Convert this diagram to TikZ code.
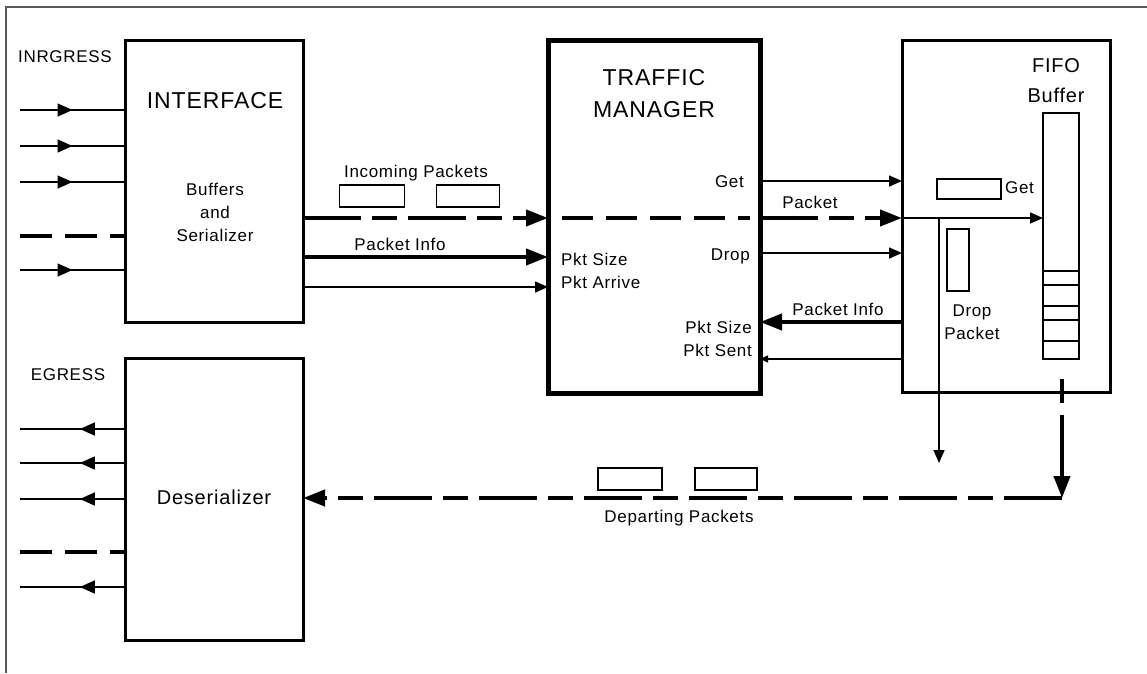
\documentclass[tikz,border=0pt]{standalone}
\usepackage{fontspec}
\setmainfont{Liberation Sans}[LetterSpace=4]
\usetikzlibrary{arrows.meta,positioning,calc,decorations.markings}

\begin{document}
\begin{tikzpicture}[
  x=1pt, y=-1pt,
  blk/.style={draw,line width=3pt,inner sep=0pt,outer sep=0pt},
  buf/.style={draw,line width=1.5pt,inner sep=0pt,outer sep=0pt},
  lbl/.style={inner sep=0pt,align=center,font=\fontsize{17}{23}\selectfont},
  head/.style={inner sep=0pt,align=center,font=\fontsize{23}{32}\selectfont},
  wire/.style={line width=1.5pt},
  tarr/.style={wire,-{Triangle[length=13pt,width=11pt]}},
  bigtip/.style={-{Triangle[length=22pt,width=16pt]}},
  barr/.style={line width=4pt,bigtip},
  iodash/.style={line width=4pt,dash pattern=on 32pt off 13pt},
  flowdash/.style={line width=4pt,dash pattern=on 58pt off 11pt on 25pt off 11pt},
  midarr/.style={wire,postaction=decorate,decoration={markings,
    mark=at position #1 with {\arrow{Triangle[length=15pt,width=13pt]}}}}
]
\useasboundingbox (0,0) rectangle (1147,673);
\draw[line width=2pt,black!65] (1147,7) -- (6,7) -- (6,673);

% main blocks
\node[blk,minimum width=178pt,minimum height=282pt] (iface) at (214,181) {};
\node[blk,line width=5pt,minimum width=212pt,minimum height=353pt] (tm) at (654,216.5) {};
\node[blk,minimum width=208pt,minimum height=352pt] (fifo) at (1006,216) {};
\node[blk,minimum width=178pt,minimum height=282pt] (deser) at (214,499) {};

% block texts
\node[lbl,anchor=base west] (ingress) at (18,62) {INRGRESS};
\node[head,anchor=base] (ifacettl) at (215,108) {INTERFACE};
\node[lbl] (ifacetxt) at (215,212) {Buffers\\and\\Serializer};
\node[head] (tmttl) at (654,94) {TRAFFIC\\MANAGER};
\node[head,font=\fontsize{20}{30}\selectfont] (fifottl) at (1056,81) {FIFO\\Buffer};
\node[lbl,anchor=base] (egress) at (68,380) {EGRESS};
\node[lbl,anchor=base,font=\fontsize{20}{24}\selectfont] (desertxt) at (214,504) {Deserializer};

% ingress and egress ports
\foreach \n/\y in {1/110,2/146,3/182,5/270} {
  \coordinate (in\n) at (20,\y);
  \draw[midarr=0.5] (in\n) -- (in\n -| iface.west);
}
\coordinate (in4) at (20,236);
\draw[iodash] (in4) -- (in4 -| iface.west);
\foreach \n/\y in {1/429,2/463,3/499,5/587} {
  \coordinate (out\n) at (20,\y);
  \draw[midarr=0.43] (out\n -| deser.west) -- (out\n);
}
\coordinate (out4) at (20,552);
\draw[iodash] (out4) -- (out4 -| deser.west);

% signal rows
\coordinate (yget) at (0,181);
\coordinate (ypkt) at (0,218);
\coordinate (ydrop) at (0,253);
\coordinate (yinfo) at (0,257);
\coordinate (yarr) at (0,287);
\coordinate (yback) at (0,322);
\coordinate (ysent) at (0,359);

% interface -> traffic manager
\node[buf,minimum width=65pt,minimum height=22pt] (inpktA) at (372,196) {};
\node[buf,minimum width=63pt,minimum height=22pt] (inpktB) at (468,196) {};
\node[lbl,anchor=base] (inpkttxt) at (416,177) {Incoming Packets};
\draw[flowdash,bigtip] (iface.east |- ypkt) -- (tm.west |- ypkt);
\draw[barr] (iface.east |- yinfo) -- (tm.west |- yinfo);
\node[lbl,anchor=base] (infotxt) at (400,250) {Packet Info};
\draw[tarr] (iface.east |- yarr) -- (tm.west |- yarr);
\draw[line width=4pt,dash pattern=on 31pt off 13pt]
  ($(tm.west |- ypkt)+(14,0)$) -- ($(tm.east |- ypkt)+(-10,0)$);
\node[lbl,anchor=west] (arrtxt) at (561,272) {\begin{tabular}{@{}l@{}}Pkt Size\\Pkt Arrive\end{tabular}};
\node[lbl,anchor=base east] (gettxt) at (744,187) {Get};
\node[lbl,anchor=base east] (droptxt) at (750,260) {Drop};
\node[lbl,anchor=east] (senttxt) at (752,340) {\begin{tabular}{@{}r@{}}Pkt Size\\Pkt Sent\end{tabular}};

% traffic manager <-> fifo
\draw[tarr] (tm.east |- yget) -- (fifo.west |- yget);
\draw[flowdash,bigtip] (tm.east |- ypkt) -- (fifo.west |- ypkt);
\node[lbl,anchor=base] (pkttxt) at (810,208) {Packet};
\draw[tarr] (tm.east |- ydrop) -- (fifo.west |- ydrop);
\draw[barr] (fifo.west |- yback) -- (tm.east |- yback);
\node[lbl,anchor=base] (backtxt) at (838,315) {Packet Info};
\draw[wire,-{Triangle[length=8pt,width=7pt]}] (fifo.west |- ysent) -- (tm.east |- ysent);

% fifo internals
\node[buf,minimum width=36pt,minimum height=246pt] (queue) at (1061,236) {};
\foreach \y in {271,285,306,320,341}
  \draw[wire] (queue.west |- 0,\y) -- (queue.east |- 0,\y);
\node[buf,minimum width=64pt,minimum height=20pt] (getbuf) at (969,189) {};
\node[lbl,anchor=base west] (getbuftxt) at (1005,193) {Get};
\node[buf,minimum width=22pt,minimum height=62pt] (dropbuf) at (958,260) {};
\node[lbl] (dropbuftxt) at (972,322) {Drop\\Packet};
\draw[tarr] (fifo.west |- ypkt) -- (queue.west |- ypkt);
\coordinate (dropend) at (939,463);
\draw[tarr] (dropend |- ypkt) -- (dropend);

% departing path
\coordinate (qout) at (1062,379);
\coordinate (turn) at (1062,498);
\draw[line width=4pt,dash pattern=on 24pt off 12pt on 90pt,bigtip] (qout) -- (turn);
\draw[flowdash,bigtip] (turn) -- (deser.east |- turn);
\node[buf,minimum width=64pt,minimum height=22pt] (outpktA) at (630,479) {};
\node[buf,minimum width=62pt,minimum height=22pt] (outpktB) at (726,479) {};
\node[lbl,anchor=base] (outpkttxt) at (679,522) {Departing Packets};
\end{tikzpicture}
\end{document}
